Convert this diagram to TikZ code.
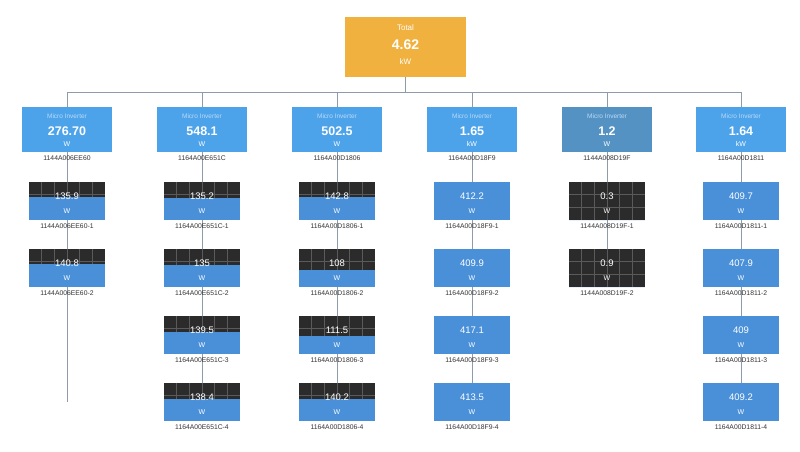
\documentclass[tikz,border=0pt]{standalone}
\usepackage{fontspec}
\setmainfont{Liberation Sans}
\definecolor{totc}{HTML}{F0B13F}
\definecolor{invc}{HTML}{4DA3EA}
\definecolor{invd}{HTML}{5592C4}
\definecolor{pblue}{HTML}{4A90D9}
\definecolor{pdark}{HTML}{2B2B2B}
\definecolor{pgrid}{HTML}{5A5A5A}
\definecolor{linec}{HTML}{8E9BAA}
\definecolor{smallc}{HTML}{B9DBF8}
\tikzset{
  conn/.style={draw=linec, line width=0.9pt},
  panelbox/.style={minimum width=76pt, minimum height=38pt, inner sep=0pt, draw=none},
  invbox/.style={minimum width=90pt, minimum height=45pt, inner sep=0pt},
  val/.style={text=white, font=\fontsize{9.5}{10}\selectfont, inner sep=0pt},
  unit/.style={text=white, font=\fontsize{7}{8}\selectfont, inner sep=0pt},
  idl/.style={text=black!80, font=\fontsize{6.8}{8}\selectfont, inner sep=0pt},
  small/.style={text=smallc, font=\fontsize{6.5}{8}\selectfont, inner sep=0pt},
  big/.style={text=white, font=\bfseries\fontsize{12.5}{14}\selectfont, inner sep=0pt}
}
\newcommand\pnl[6]{%
  \node[panelbox] (#1) at (#2,#3+19) {};
  \fill[pdark] (#2-38,#3) rectangle (#2+38,#3+38);
  \foreach \k in {1,...,5} \draw[pgrid, line width=0.6pt] (#2-38+\k*12.667,#3) -- (#2-38+\k*12.667,#3+38);
  \foreach \k in {1,2} \draw[pgrid, line width=0.6pt] (#2-38,#3+\k*12.667) -- (#2+38,#3+\k*12.667);
  \fill[pblue] (#2-38,#3+38-38*#5) rectangle (#2+38,#3+38);
  \node[val] at (#2,#3+14) {#4};
  \node[unit] at (#2,#3+29) {W};
  \node[idl] at (#2,#3+44) {#6};
}
\newcommand\inv[7]{% name x value unit id color
  \node[invbox, fill=#6] (#1) at (#2,129.5) {};
  \node[small] at (#2,116) {Micro Inverter};
  \node[big] at (#2,131) {#3};
  \node[unit] at (#2,144) {#4};
  \node[idl] at (#2,158) {#5};
}
\begin{document}
\begin{tikzpicture}[x=1pt,y=-1pt]
\useasboundingbox[fill=white] (0,0) rectangle (800,451);
% connectors (behind)
\coordinate (bus) at (405.5,92);
\node[minimum width=121pt, minimum height=60pt, inner sep=0pt, fill=totc] (tot) at (405.5,47) {};
\draw[conn] (tot.south) -- (bus);
\foreach \x/\l in {67/421,202/421,337/421,472/421,607/287,741/421}{
  \draw[conn] (bus) -| (\x,107);
  \draw[conn] (\x,107) -- (\x,\l-19);
}
\node[text=white, font=\fontsize{8}{9}\selectfont, inner sep=0pt] at (405.5,28) {Total};
\node[big, font=\bfseries\fontsize{14}{16}\selectfont] at (405.5,45) {4.62};
\node[text=white, font=\fontsize{8}{9}\selectfont, inner sep=0pt] at (405.5,62) {kW};
\inv{i1}{67}{276.70}{W}{1144A006EE60}{invc}{}
\inv{i2}{202}{548.1}{W}{1164A00E651C}{invc}{}
\inv{i3}{337}{502.5}{W}{1164A00D1806}{invc}{}
\inv{i4}{472}{1.65}{kW}{1164A00D18F9}{invc}{}
\inv{i5}{607}{1.2}{W}{1144A008D19F}{invd}{}
\inv{i6}{741}{1.64}{kW}{1164A00D1811}{invc}{}
% panels
\pnl{p11}{67}{182}{135.9}{0.6}{1144A006EE60-1}
\pnl{p12}{67}{249}{140.8}{0.6}{1144A006EE60-2}
\pnl{p21}{202}{182}{135.2}{0.57}{1164A00E651C-1}
\pnl{p22}{202}{249}{135}{0.57}{1164A00E651C-2}
\pnl{p23}{202}{316}{139.5}{0.59}{1164A00E651C-3}
\pnl{p24}{202}{383}{138.4}{0.58}{1164A00E651C-4}
\pnl{p31}{337}{182}{142.8}{0.6}{1164A00D1806-1}
\pnl{p32}{337}{249}{108}{0.45}{1164A00D1806-2}
\pnl{p33}{337}{316}{111.5}{0.47}{1164A00D1806-3}
\pnl{p34}{337}{383}{140.2}{0.59}{1164A00D1806-4}
\pnl{p41}{472}{182}{412.2}{1}{1164A00D18F9-1}
\pnl{p42}{472}{249}{409.9}{1}{1164A00D18F9-2}
\pnl{p43}{472}{316}{417.1}{1}{1164A00D18F9-3}
\pnl{p44}{472}{383}{413.5}{1}{1164A00D18F9-4}
\pnl{p51}{607}{182}{0.3}{0}{1144A008D19F-1}
\pnl{p52}{607}{249}{0.9}{0}{1144A008D19F-2}
\pnl{p61}{741}{182}{409.7}{1}{1164A00D1811-1}
\pnl{p62}{741}{249}{407.9}{1}{1164A00D1811-2}
\pnl{p63}{741}{316}{409}{1}{1164A00D1811-3}
\pnl{p64}{741}{383}{409.2}{1}{1164A00D1811-4}
\end{tikzpicture}
\end{document}
